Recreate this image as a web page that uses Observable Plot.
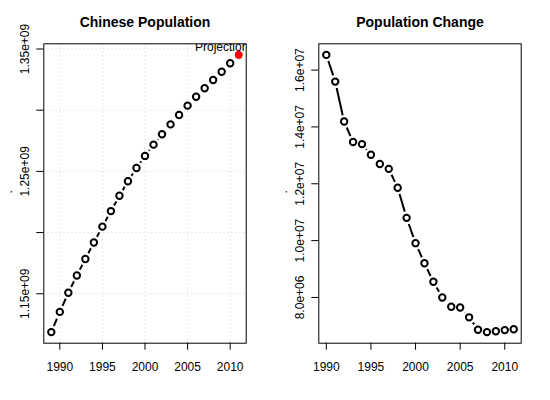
<!DOCTYPE html>
<html>
<head>
<meta charset="utf-8">
<script src="https://cdn.jsdelivr.net/npm/d3@7"></script>
<script src="https://cdn.jsdelivr.net/npm/@observablehq/plot@0.6"></script>
<style>
  html, body { margin: 0; padding: 0; background: #fff; }
  #wrap { display: flex; width: 550px; height: 400px; }
  svg { font-family: "Liberation Sans", Arial, Helvetica, sans-serif; }
</style>
</head>
<body>
<div id="wrap"></div>
<script>
// ---- data ----
const years = [1989, 1990, 1991, 1992, 1993, 1994, 1995, 1996, 1997, 1998, 1999,
               2000, 2001, 2002, 2003, 2004, 2005, 2006, 2007, 2008, 2009, 2010];
const population = [1118650000, 1135185000, 1150780000, 1164970000, 1178440000, 1191835000,
                    1204855000, 1217550000, 1230075000, 1241935000, 1252735000, 1262645000,
                    1271850000, 1280400000, 1288400000, 1296075000, 1303720000, 1311020000,
                    1317885000, 1324665000, 1331475000, 1338325000];
const projectionYear = 2011;
const projectionPopulation = 1345205000;

const changeYears = [1990, 1991, 1992, 1993, 1994, 1995, 1996, 1997, 1998, 1999, 2000,
                     2001, 2002, 2003, 2004, 2005, 2006, 2007, 2008, 2009, 2010, 2011];
const populationChange = [16535000, 15595000, 14190000, 13470000, 13395000, 13020000,
                          12695000, 12525000, 11860000, 10800000, 9910000, 9205000,
                          8550000, 8000000, 7675000, 7645000, 7300000, 6865000,
                          6780000, 6810000, 6850000, 6880000];

const xTicks = [1990, 1995, 2000, 2005, 2010];
const popYTicks = [1.15e9, 1.20e9, 1.25e9, 1.30e9, 1.35e9];
const popYTickLabels = ["1.15e+09", "", "1.25e+09", "", "1.35e+09"];
const changeYTicks = [8e6, 1e7, 1.2e7, 1.4e7, 1.6e7];
const changeYTickLabels = ["8.0e+06", "1.0e+07", "1.2e+07", "1.4e+07", "1.6e+07"];

const titleLeft = "Chinese Population";
const titleRight = "Population Change";
const yLabel = ".";
const projectionLabel = "Projection";
const projectionLabelYear = 2009;
const projectionLabelValue = 1.3515e9;

// ---- helpers ----
function padded(values) {
  const [lo, hi] = d3.extent(values);
  const p = (hi - lo) * 0.04;
  return [lo - p, hi + p];
}
const font = "'Liberation Sans', Arial, Helvetica, sans-serif";
const W = 275, H = 400;
const margins = {marginLeft: 43.3, marginRight: 29.3, marginTop: 43.3, marginBottom: 57.3};

function panel({xs, ys, extraX = [], extraY = [], yTicks, yTickLabels, title, dashed, grid, extraMarks = []}) {
  const pts = xs.map((x, i) => ({x, y: ys[i]}));
  const segs = d3.pairs(pts).map(([a, b]) => ({x1: a.x, y1: a.y, x2: b.x, y2: b.y}));
  const tickData = yTicks.map((v, i) => ({v, label: yTickLabels[i]}));
  const marks = [];
  if (grid) {
    marks.push(Plot.gridX(xTicks, {stroke: "#d3d3d3", strokeOpacity: 1, strokeDasharray: "1,3"}));
    marks.push(Plot.gridY(yTicks, {stroke: "#d3d3d3", strokeOpacity: 1, strokeDasharray: "1,3"}));
  }
  marks.push(
    Plot.frame({stroke: "black", strokeWidth: 1}),
    Plot.axisX({ticks: xTicks, tickSize: 7, tickPadding: 12, fontSize: 12, tickFormat: d => String(d), stroke: "black", fill: "black"}),
    Plot.axisY({ticks: yTicks, tickSize: 7, tickFormat: () => "", stroke: "black"}),
    Plot.text(tickData, {y: "v", text: "label", frameAnchor: "left", rotate: -90, dx: -19,
                         lineAnchor: "middle", textAnchor: "middle", fontSize: 12, fill: "black"}),
    Plot.text([yLabel], {frameAnchor: "left", rotate: -90, dx: -36, fontSize: 12, fill: "black"}),
    Plot.text([title], {frameAnchor: "top", dy: -16.5, lineAnchor: "bottom", fontSize: 14, fontWeight: "bold", fill: "black"}),
    Plot.arrow(segs, {x1: "x1", y1: "y1", x2: "x2", y2: "y2", headLength: 0, bend: 0,
                      insetStart: 6.5, insetEnd: 6.5, stroke: "black", strokeWidth: 2,
                      strokeLinecap: "butt", strokeDasharray: dashed ? "8,8" : null}),
    Plot.dot(pts, {x: "x", y: "y", r: 3.2, stroke: "black", strokeWidth: 2, fill: "none"}),
    ...extraMarks
  );
  return Plot.plot({
    width: W, height: H, ...margins,
    style: {fontFamily: font, fontSize: "12px", background: "white", color: "black", overflow: "visible"},
    x: {domain: padded(xs.concat(extraX))},
    y: {domain: padded(ys.concat(extraY))},
    marks
  });
}

const left = panel({
  xs: years, ys: population,
  extraX: [projectionYear], extraY: [projectionPopulation],
  yTicks: popYTicks, yTickLabels: popYTickLabels,
  title: titleLeft, dashed: true, grid: true,
  extraMarks: [
    Plot.dot([{x: projectionYear, y: projectionPopulation}], {x: "x", y: "y", r: 3.6, fill: "#ff0000", stroke: "#ff0000", strokeWidth: 1}),
    Plot.text([{x: projectionLabelYear, y: projectionLabelValue, t: projectionLabel}],
              {x: "x", y: "y", text: "t", fontSize: 12, fill: "black", clip: true, lineAnchor: "middle"})
  ]
});

const right = panel({
  xs: changeYears, ys: populationChange,
  yTicks: changeYTicks, yTickLabels: changeYTickLabels,
  title: titleRight, dashed: false, grid: false
});

document.getElementById("wrap").append(left, right);
</script>
</body>
</html>
